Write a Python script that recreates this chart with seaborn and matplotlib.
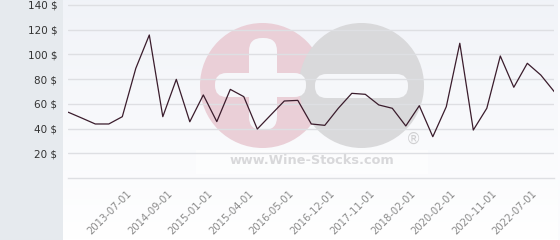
import numpy as np
import pandas as pd
import matplotlib
matplotlib.use("Agg")
import matplotlib.pyplot as plt
import matplotlib.transforms as mtransforms
from matplotlib.patches import Circle, FancyBboxPatch, Rectangle
import seaborn as sns

# ---- data ----
prices = [53.2, 48.5, 43.7, 43.7, 49.6, 88.7, 115.7, 49.6, 79.8, 45.5,
          67.2, 45.6, 71.7, 65.8, 39.6, 51.0, 62.3, 62.8, 43.7, 42.6,
          56.4, 68.5, 67.7, 59.1, 56.4, 42.1, 58.5, 33.4, 57.7, 109.0,
          38.8, 56.4, 98.7, 73.4, 92.8, 83.3, 69.8]
tick_labels = ["2013-07-01", "2014-09-01", "2015-01-01", "2015-04-01",
               "2016-05-01", "2016-12-01", "2017-11-01", "2018-02-01",
               "2020-02-01", "2020-11-01", "2022-07-01"]
y_ticks = [20, 40, 60, 80, 100, 120, 140]

df = pd.DataFrame({"idx": np.arange(len(prices)), "price": prices})

sns.set_theme(style="white")
plt.rcParams["font.family"] = ["DejaVu Sans"]

W, H = 560, 240
fig = plt.figure(figsize=(W / 100, H / 100), dpi=100)
fig.patch.set_facecolor("#fbfbfd")

# background layer in pixel coordinates
bg = fig.add_axes([0, 0, 1, 1], zorder=0)
bg.set_xlim(0, W)
bg.set_ylim(H, 0)
bg.axis("off")
grad = np.linspace(0, 1, 200)[:, None]
cols = np.array([0.945, 0.953, 0.973]) * (1 - grad[..., None]) + np.array([1.0, 1.0, 1.0]) * grad[..., None]
bg.imshow(cols, extent=(63, 558, 240, 0), aspect="auto", zorder=0)
bg.add_patch(Rectangle((0, 0), 63, H, facecolor="#e6eaee", edgecolor="none", zorder=1))

# watermark
bg.add_patch(Circle((262.5, 85.5), 62.5, facecolor="#eacfd7", edgecolor="none", zorder=2))
bg.add_patch(Circle((361.5, 85.5), 62.5, facecolor="#d9d9db", edgecolor="none", zorder=3))
wcol = "#f6f7fa"
bg.add_patch(FancyBboxPatch((249, 38), 28, 92, boxstyle="round,pad=0,rounding_size=13",
                            facecolor=wcol, edgecolor="none", zorder=4))
bg.add_patch(FancyBboxPatch((215, 73), 91, 24, boxstyle="round,pad=0,rounding_size=11.5",
                            facecolor=wcol, edgecolor="none", zorder=4))
bg.add_patch(FancyBboxPatch((315, 74), 93, 24, boxstyle="round,pad=0,rounding_size=11.5",
                            facecolor=wcol, edgecolor="none", zorder=4))
bg.add_patch(Rectangle((196, 150), 232, 24, facecolor="#ffffff", alpha=0.6,
                       edgecolor="none", zorder=4))
bg.text(312, 161, "www.Wine-Stocks.com", ha="center", va="center", fontsize=9.3,
        fontweight="bold", color="#d8d8da", zorder=5)
bg.text(413, 139, "®", ha="center", va="center", fontsize=11,
        color="#d0d0d2", zorder=5)

# main axes
left_px, right_px, bottom_px, top_px = 68.3, 554.3, 178, 0
ax = fig.add_axes([left_px / W, (H - bottom_px) / H, (right_px - left_px) / W,
                   (bottom_px - top_px) / H], zorder=2)
ax.set_facecolor("none")

sns.lineplot(data=df, x="idx", y="price", ax=ax, color="#3a1c2c", linewidth=0.9)

ax.set_xlim(0, len(prices) - 1)
ax.set_ylim(0, 144)
ax.set_yticks(y_ticks)
ax.set_yticklabels([f"{v} $" for v in y_ticks])
ax.set_xticks(list(range(5, len(prices), 3)))
ax.set_xticklabels(tick_labels, rotation=45, ha="right", rotation_mode="anchor")
ax.tick_params(axis="y", length=0, pad=8, labelsize=7.5, labelcolor="#333333")
ax.tick_params(axis="x", length=0, pad=8, labelsize=7.2, labelcolor="#8a8a8a")
offset = mtransforms.ScaledTranslation(-9 / 100, 1 / 100, fig.dpi_scale_trans)
for lab in ax.get_xticklabels():
    lab.set_transform(lab.get_transform() + offset)
ax.grid(axis="y", color="#dedfe3", linewidth=1)
ax.grid(axis="x", visible=False)
for s in ["top", "right", "left"]:
    ax.spines[s].set_visible(False)
ax.spines["bottom"].set_color("#dedfe3")
ax.spines["bottom"].set_linewidth(1)
ax.set_xlabel("")
ax.set_ylabel("")

fig.savefig("out.png", dpi=100)
